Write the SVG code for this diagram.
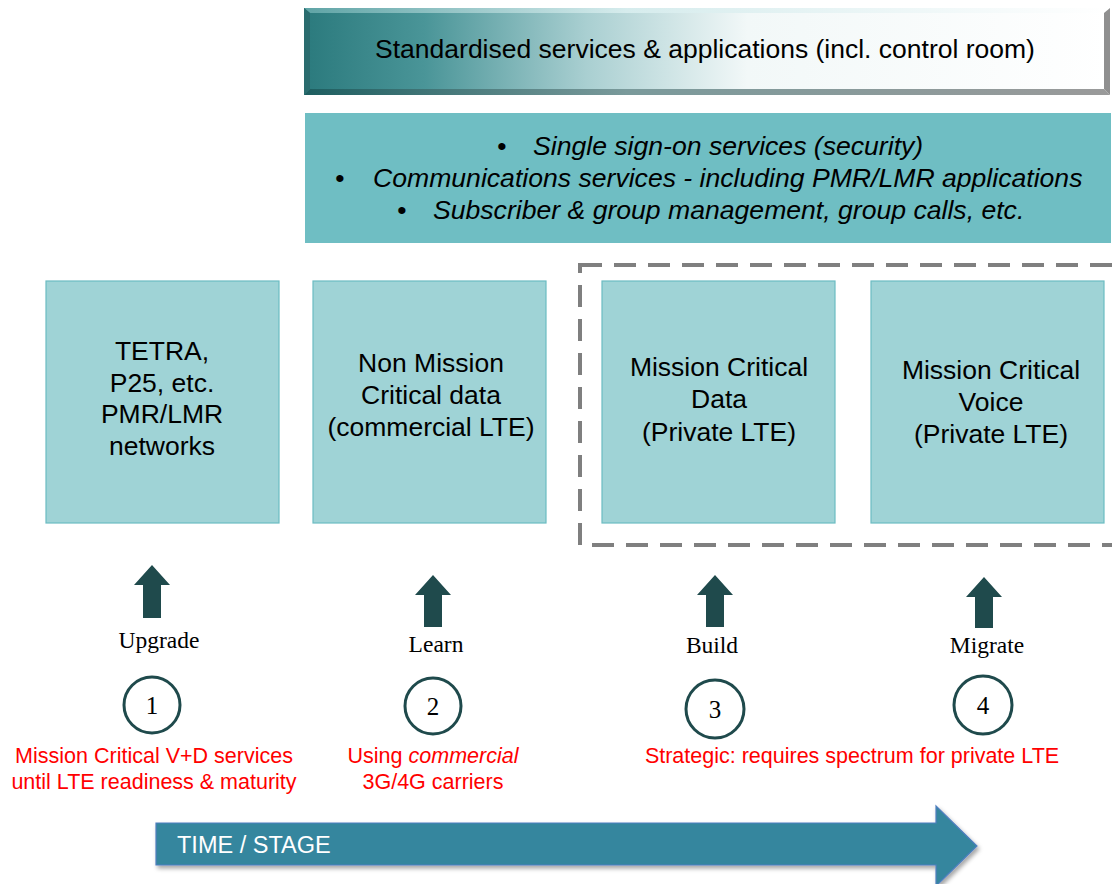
<svg xmlns="http://www.w3.org/2000/svg" width="1112" height="884" viewBox="0 0 1112 884">
<defs>
<linearGradient id="bannerGrad" x1="0" y1="0" x2="1" y2="0">
<stop offset="0" stop-color="#2b7a7d"/>
<stop offset="0.15" stop-color="#4a9598"/>
<stop offset="0.35" stop-color="#a9cfd1"/>
<stop offset="0.55" stop-color="#f2f8f8"/>
<stop offset="1" stop-color="#ffffff"/>
</linearGradient>
<linearGradient id="bevelBottom" x1="0" y1="0" x2="1" y2="0">
<stop offset="0" stop-color="#1d5e60"/>
<stop offset="0.4" stop-color="#7a9a9b"/>
<stop offset="1" stop-color="#9a9a9a"/>
</linearGradient>
<linearGradient id="bevelTop" x1="0" y1="0" x2="1" y2="0">
<stop offset="0" stop-color="#5fa4a6"/>
<stop offset="0.4" stop-color="#d6eced"/>
<stop offset="1" stop-color="#ffffff"/>
</linearGradient>
<filter id="shadow" x="-5%" y="-20%" width="110%" height="150%">
<feDropShadow dx="2" dy="3" stdDeviation="2" flood-color="#000" flood-opacity="0.35"/>
</filter>
<style>
.box{fill:#9fd3d6;stroke:#6cbcc2;stroke-width:1.2}
.boxt{font-family:"Liberation Sans",Arial,sans-serif;font-size:26.5px;fill:#000;text-anchor:middle}
.up{fill:#1f4a4c}
.lbl{font-family:"Liberation Serif","Times New Roman",serif;font-size:23.5px;fill:#000;text-anchor:middle}
.circ{fill:#fff;stroke:#1f4a4c;stroke-width:3}
.num{font-family:"Liberation Serif","Times New Roman",serif;font-size:25px;fill:#000;text-anchor:middle}
.red{font-family:"Liberation Sans",Arial,sans-serif;font-size:21.5px;fill:#ff0000;text-anchor:middle}
.svc{font-family:"Liberation Sans",Arial,sans-serif;font-size:26.6px;font-style:italic;fill:#000}
</style>
</defs>

<g id="banner">
<rect x="304" y="8" width="806" height="87" fill="url(#bannerGrad)"/>
<polygon points="304,8 1110,8 1104,13 310,13" fill="url(#bevelTop)"/>
<polygon points="304,95 1110,95 1104,89 310,89" fill="url(#bevelBottom)"/>
<polygon points="1110,8 1110,95 1104,89 1104,13" fill="#8f8f8f"/>
<polygon points="304,8 304,95 310,89 310,13" fill="#2a6c6e"/>
<text x="705" y="58" font-family="Liberation Sans, Arial, sans-serif" font-size="26.5" text-anchor="middle" fill="#000">Standardised services &amp; applications (incl. control room)</text>
</g>

<g id="services">
<rect x="305" y="113" width="806" height="130" fill="#6fbec3"/>
<text class="svc" x="497" y="155">•</text>
<text class="svc" x="533" y="155">Single sign-on services (security)</text>
<text class="svc" x="335" y="187">•</text>
<text class="svc" x="373" y="187">Communications services - including PMR/LMR applications</text>
<text class="svc" x="397" y="219">•</text>
<text class="svc" x="433" y="219">Subscriber &amp; group management, group calls, etc.</text>
</g>

<g id="private-lte-group">
<rect x="580" y="265" width="540" height="280" fill="none" stroke="#7f7f7f" stroke-width="4" stroke-dasharray="22,12"/>
</g>

<g id="node-tetra">
<rect class="box" x="46" y="281" width="233" height="242"/>
<text class="boxt" x="162" y="360">TETRA,</text>
<text class="boxt" x="162" y="392">P25, etc.</text>
<text class="boxt" x="162" y="423">PMR/LMR</text>
<text class="boxt" x="162" y="455">networks</text>
</g>

<g id="node-nonmc">
<rect class="box" x="313" y="281" width="233" height="242"/>
<text class="boxt" x="431" y="372">Non Mission</text>
<text class="boxt" x="431" y="404">Critical data</text>
<text class="boxt" x="431" y="436">(commercial LTE)</text>
</g>

<g id="node-mcdata">
<rect class="box" x="602" y="281" width="233" height="242"/>
<text class="boxt" x="719" y="376">Mission Critical</text>
<text class="boxt" x="719" y="408">Data</text>
<text class="boxt" x="719" y="441">(Private LTE)</text>
</g>

<g id="node-mcvoice">
<rect class="box" x="871" y="281" width="233" height="242"/>
<text class="boxt" x="991" y="379">Mission Critical</text>
<text class="boxt" x="991" y="411">Voice</text>
<text class="boxt" x="991" y="443">(Private LTE)</text>
</g>

<g id="connectors">
<polygon class="up" points="152,565 170,585 161,585 161,618 143,618 143,585 134,585"/>
<polygon class="up" points="433,575 451,595 442,595 442,627 424,627 424,595 415,595"/>
<polygon class="up" points="715,575 733,595 724,595 724,627 706,627 706,595 697,595"/>
<polygon class="up" points="984,577 1002,597 993,597 993,628 975,628 975,597 966,597"/>
</g>

<g id="stage-1">
<text class="lbl" x="159" y="648">Upgrade</text>
<circle class="circ" cx="152" cy="705" r="28"/>
<text class="num" x="152" y="714">1</text>
<text class="red" x="154" y="763">Mission Critical V+D services</text>
<text class="red" x="154" y="789">until LTE readiness &amp; maturity</text>
</g>

<g id="stage-2">
<text class="lbl" x="436" y="652">Learn</text>
<circle class="circ" cx="433" cy="706" r="28"/>
<text class="num" x="433" y="715">2</text>
<text class="red" x="433" y="763">Using <tspan font-style="italic">commercial</tspan></text>
<text class="red" x="433" y="789">3G/4G carriers</text>
</g>

<g id="stage-3">
<text class="lbl" x="712" y="653">Build</text>
<circle class="circ" cx="715" cy="709" r="29"/>
<text class="num" x="715" y="718">3</text>
</g>

<g id="stage-4">
<text class="lbl" x="987" y="653">Migrate</text>
<circle class="circ" cx="983" cy="705" r="29"/>
<text class="num" x="983" y="714">4</text>
</g>

<text class="red" x="852" y="763">Strategic: requires spectrum for private LTE</text>

<g id="time-arrow">
<polygon points="156,823 936,823 936,806 977,846 936,886 936,865 156,865" fill="#35869e" stroke="#4f7fbf" stroke-width="1.2" filter="url(#shadow)"/>
<text x="177" y="853" font-family="Liberation Sans, Arial, sans-serif" font-size="23.5" fill="#ffffff">TIME / STAGE</text>
</g>
</svg>
